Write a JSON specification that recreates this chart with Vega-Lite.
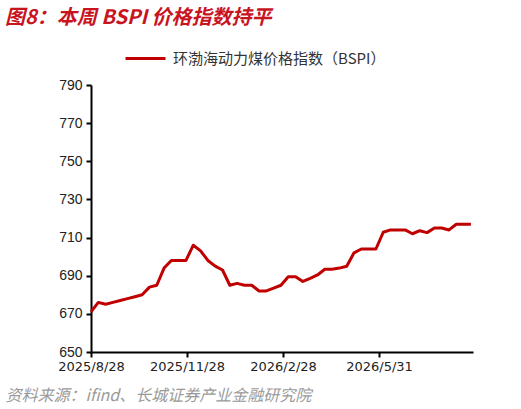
{
  "$schema": "https://vega.github.io/schema/vega-lite/v6.json",
  "width": 382,
  "height": 267,
  "autosize": {"type": "none"},
  "padding": {"left": 91, "top": 85, "right": 48, "bottom": 57},
  "background": "white",
  "title": {
    "text": "图8：本周 BSPI 价格指数持平",
    "anchor": "start",
    "frame": "group",
    "dx": -86,
    "offset": 9,
    "font": "Noto Sans CJK SC",
    "fontSize": 20,
    "fontWeight": "bold",
    "fontStyle": "italic",
    "color": "#C8141E"
  },
  "data": {
    "values": [
      {"date": "2025-08-28", "value": 671},
      {"date": "2025-09-04", "value": 676},
      {"date": "2025-09-11", "value": 675},
      {"date": "2025-09-18", "value": 676},
      {"date": "2025-09-25", "value": 677},
      {"date": "2025-10-02", "value": 678},
      {"date": "2025-10-09", "value": 679},
      {"date": "2025-10-16", "value": 680},
      {"date": "2025-10-23", "value": 684},
      {"date": "2025-10-30", "value": 685},
      {"date": "2025-11-06", "value": 694},
      {"date": "2025-11-13", "value": 698},
      {"date": "2025-11-20", "value": 698},
      {"date": "2025-11-27", "value": 698},
      {"date": "2025-12-04", "value": 706},
      {"date": "2025-12-11", "value": 703},
      {"date": "2025-12-18", "value": 698},
      {"date": "2025-12-25", "value": 695},
      {"date": "2026-01-01", "value": 693},
      {"date": "2026-01-08", "value": 685},
      {"date": "2026-01-15", "value": 686},
      {"date": "2026-01-22", "value": 685},
      {"date": "2026-01-29", "value": 685},
      {"date": "2026-02-05", "value": 682},
      {"date": "2026-02-12", "value": 682},
      {"date": "2026-02-19", "value": 683.5},
      {"date": "2026-02-26", "value": 685},
      {"date": "2026-03-05", "value": 689.5},
      {"date": "2026-03-12", "value": 689.5},
      {"date": "2026-03-19", "value": 687},
      {"date": "2026-03-26", "value": 688.6},
      {"date": "2026-04-02", "value": 690.4},
      {"date": "2026-04-09", "value": 693.4},
      {"date": "2026-04-16", "value": 693.4},
      {"date": "2026-04-23", "value": 694},
      {"date": "2026-04-30", "value": 695},
      {"date": "2026-05-07", "value": 702},
      {"date": "2026-05-14", "value": 704},
      {"date": "2026-05-21", "value": 704},
      {"date": "2026-05-28", "value": 704},
      {"date": "2026-06-04", "value": 712.8},
      {"date": "2026-06-11", "value": 714},
      {"date": "2026-06-18", "value": 714},
      {"date": "2026-06-25", "value": 714},
      {"date": "2026-07-02", "value": 712},
      {"date": "2026-07-09", "value": 713.6},
      {"date": "2026-07-16", "value": 712.6},
      {"date": "2026-07-23", "value": 715},
      {"date": "2026-07-30", "value": 715},
      {"date": "2026-08-06", "value": 714},
      {"date": "2026-08-13", "value": 717},
      {"date": "2026-08-20", "value": 717},
      {"date": "2026-08-27", "value": 717}
    ]
  },
  "mark": {"type": "line", "strokeWidth": 3, "strokeJoin": "round", "interpolate": "linear"},
  "encoding": {
    "x": {
      "field": "date",
      "type": "temporal",
      "scale": {
        "type": "utc",
        "domain": [
          {"year": 2025, "month": 8, "date": 28, "utc": true},
          {"year": 2026, "month": 8, "date": 29, "utc": true}
        ]
      },
      "axis": {
        "values": [
          {"year": 2025, "month": 8, "date": 28, "utc": true},
          {"year": 2025, "month": 11, "date": 28, "utc": true},
          {"year": 2026, "month": 2, "date": 28, "utc": true},
          {"year": 2026, "month": 5, "date": 31, "utc": true}
        ],
        "format": "%Y/%-m/%-d",
        "labelFont": "DejaVu Sans",
        "labelFontSize": 13,
        "labelColor": "#222222",
        "labelPadding": 3,
        "labelFlush": false,
        "labelOverlap": false,
        "title": "资料来源：ifind、长城证券产业金融研究院",
        "titleFont": "Noto Sans CJK SC",
        "titleFontSize": 16,
        "titleFontWeight": "normal",
        "titleFontStyle": "italic",
        "titleColor": "#9A9A9A",
        "titleAnchor": "start",
        "titleAlign": "left",
        "titleBaseline": "alphabetic",
        "titleX": -86,
        "titleY": 48
      }
    },
    "y": {
      "field": "value",
      "type": "quantitative",
      "scale": {"domain": [650, 790], "nice": false, "zero": false},
      "axis": {
        "values": [650, 670, 690, 710, 730, 750, 770, 790],
        "labelFont": "Liberation Sans",
        "labelFontSize": 14,
        "labelColor": "#222222",
        "labelPadding": 4,
        "title": null
      }
    },
    "color": {
      "datum": "环渤海动力煤价格指数（BSPI）",
      "scale": {"range": ["#C00000"]},
      "legend": {
        "title": null,
        "orient": "none",
        "legendX": 33,
        "legendY": -48,
        "symbolType": "stroke",
        "symbolSize": 1600,
        "symbolStrokeWidth": 3,
        "labelFont": "Noto Sans CJK SC",
        "labelFontSize": 15,
        "labelColor": "#333333",
        "labelOffset": 6,
        "labelLimit": 0
      }
    }
  },
  "config": {
    "view": {"stroke": null},
    "axis": {
      "grid": false,
      "domainColor": "#000000",
      "domainWidth": 2,
      "tickColor": "#000000",
      "tickWidth": 2,
      "tickSize": 5
    }
  }
}
